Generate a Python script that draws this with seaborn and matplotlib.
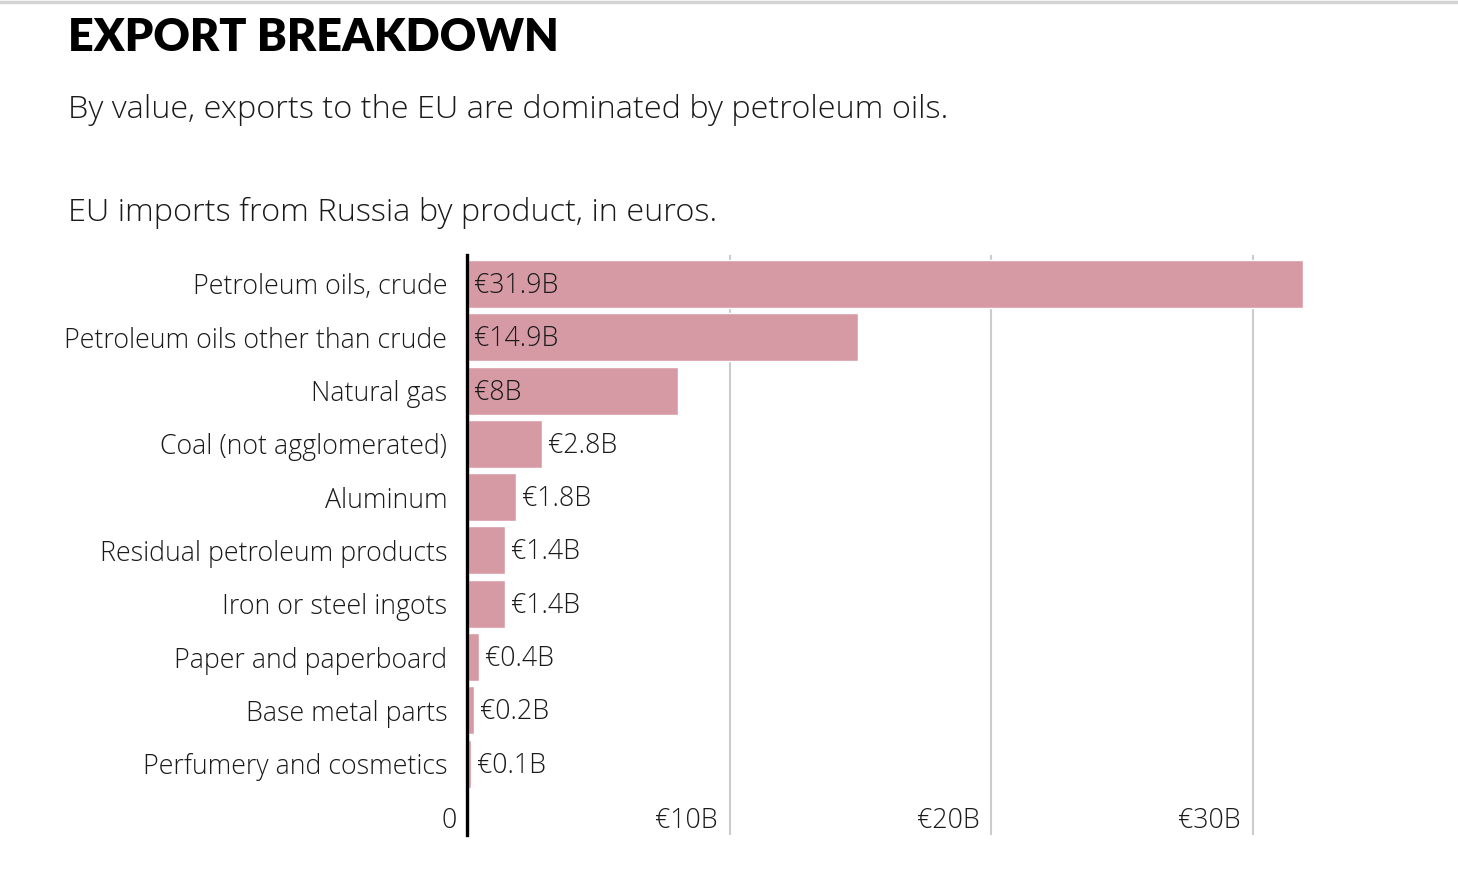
import matplotlib
matplotlib.use("Agg")
import matplotlib.pyplot as plt
import matplotlib.transforms as mtransforms
from matplotlib.lines import Line2D
import seaborn as sns
import pandas as pd

products = [
    "Petroleum oils, crude",
    "Petroleum oils other than crude",
    "Natural gas",
    "Coal (not agglomerated)",
    "Aluminum",
    "Residual petroleum products",
    "Iron or steel ingots",
    "Paper and paperboard",
    "Base metal parts",
    "Perfumery and cosmetics",
]
values = [31.9, 14.9, 8, 2.8, 1.8, 1.4, 1.4, 0.4, 0.2, 0.1]
xticks = [0, 10, 20, 30]
xtick_labels = ["0", "€10B", "€20B", "€30B"]

df = pd.DataFrame({"product": products, "value": values})

sns.set_style("white")
plt.rcParams["font.family"] = ["Open Sans", "DejaVu Sans"]

bar_color = "#d69aa5"
txt_color = "#1a1a1a"
body = 19.3
fig = plt.figure(figsize=(14.58, 8.82), dpi=100)
ax = fig.add_axes([0.3213, 0.0533, 0.6457, 0.6576])

sns.barplot(data=df, x="value", y="product", orient="h", color=bar_color,
            saturation=1, width=0.9, ax=ax)

ax.set_xlim(0, 36)
ax.set_ylim(10.34, -0.544)
ax.set_xlabel("")
ax.set_ylabel("")
ax.xaxis.grid(True, color="#cccccc", linewidth=1.5)
ax.set_axisbelow(True)
for s in ["top", "right", "bottom"]:
    ax.spines[s].set_visible(False)
ax.spines["left"].set_color("black")
ax.spines["left"].set_linewidth(2.4)
ax.spines["left"].set_position(("outward", 1.3))
ax.spines["left"].set_zorder(5)

# ticks set after the spine move (it resets the tick labels)
ax.set_xticks(xticks)
ax.set_xticklabels([])
ax.tick_params(axis="x", length=0)
ax.tick_params(axis="y", length=0, pad=14, labelsize=body, labelcolor=txt_color)
for lbl in ax.get_yticklabels():
    lbl.set_fontweight("light")

# x tick labels sit inside the plot, right-aligned to each gridline
shift = mtransforms.offset_copy(ax.transData, fig=fig, x=-12, y=0, units="dots")
for t, lab in zip(xticks, xtick_labels):
    ax.text(t, 10.07, lab, transform=shift, ha="right", va="center",
            fontsize=body, fontweight="light", color=txt_color)

# value labels: inside for large bars, outside otherwise
in_shift = mtransforms.offset_copy(ax.transData, fig=fig, x=6, y=-2, units="dots")
for i, v in enumerate(values):
    txt = f"€{v:g}B"
    xpos = 0 if v >= 5 else v
    ax.text(xpos, i, txt, transform=in_shift, ha="left", va="center",
            fontsize=body, fontweight="light", color=txt_color)

fig.text(0.0466, 0.957, "EXPORT BREAKDOWN", fontsize=32.3, fontweight="heavy",
         family=["Lato", "DejaVu Sans"], ha="left", va="center", color="black")
fig.text(0.0466, 0.8755, "By value, exports to the EU are dominated by petroleum oils.",
         fontsize=23.4, fontweight="light", ha="left", va="center", color=txt_color)
fig.text(0.0466, 0.7585, "EU imports from Russia by product, in euros.",
         fontsize=23.4, fontweight="light", ha="left", va="center", color=txt_color)

fig.add_artist(Line2D([0, 1], [0.998, 0.998], transform=fig.transFigure,
                      color="#d4d4d4", linewidth=2.5))

fig.savefig("out.png", dpi=100)
